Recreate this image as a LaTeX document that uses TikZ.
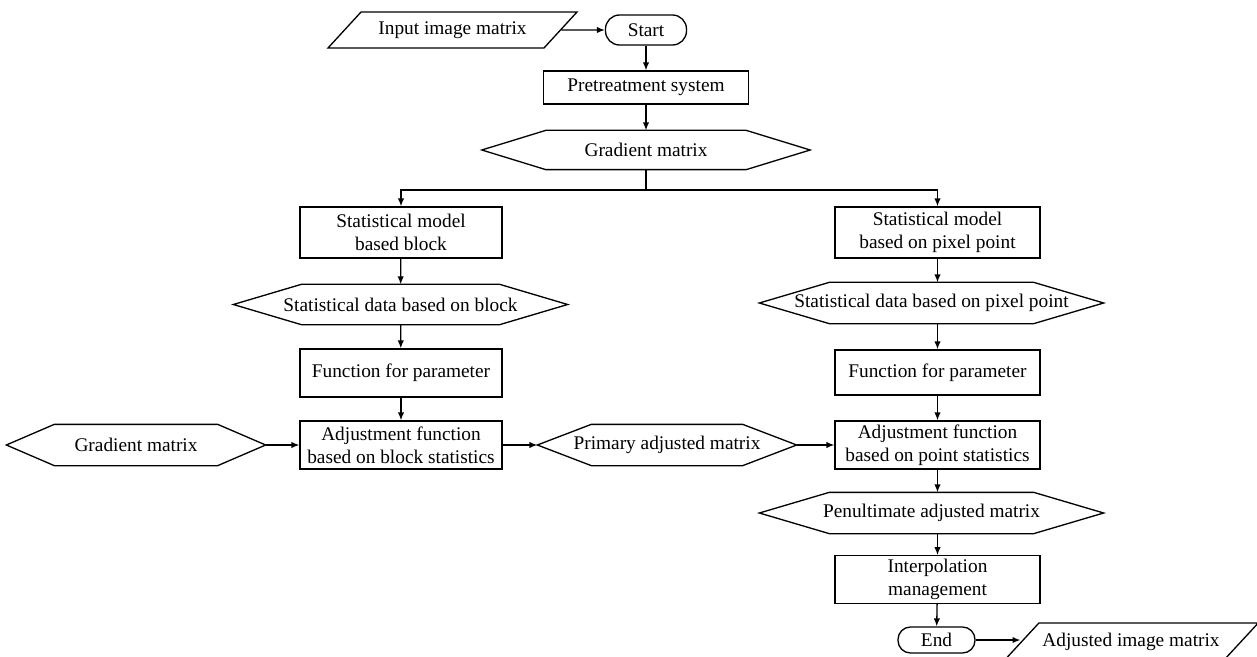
\documentclass[tikz,border=0pt]{standalone}
\usepackage{fontspec}
\setmainfont{Liberation Serif}
\usepackage{tikz}
\usetikzlibrary{shapes.geometric, arrows.meta, positioning, calc}

\tikzset{
  base/.style={line width=0.75pt, align=center, inner sep=2pt,
    font=\fontsize{11}{13}\selectfont},
  procbox/.style={base, draw, rectangle, minimum width=4.04cm},
  termbox/.style={base, draw, rectangle, rounded corners=2.8mm},
  iobox/.style={base, draw, trapezium, trapezium stretches body,
    trapezium left angle=36, trapezium right angle=144},
  databox/.style={base, rectangle, inner sep=0pt},
  arr/.style={line width=0.75pt, -{Latex[length=4.5pt,width=3.6pt]}},
  ln/.style={line width=0.75pt}
}

\begin{document}
\begin{tikzpicture}
\useasboundingbox (0,0) rectangle (25.14,-13.14);

% top part
\node[iobox, minimum width=4.98cm, minimum height=0.72cm] (input) at (9.05,-0.6) {Input image matrix};
\node[termbox, minimum width=1.62cm, minimum height=0.6cm] (start) at (12.92,-0.6) {Start};
\node[procbox, minimum width=4.1cm, minimum height=0.66cm] (pretreat) at (12.92,-1.75) {Pretreatment system};
\node[databox, minimum width=6.54cm, minimum height=0.76cm] (gradtop) at (12.92,-3.0) {Gradient matrix};
\coordinate (branch) at (12.92,-3.8);

% block branch
\node[procbox, minimum height=1.02cm] (modelblock) at (8.02,-4.65) {Statistical model\\based block};
\node[databox, minimum width=6.66cm, minimum height=0.78cm] (datablock) at (8.01,-6.09) {Statistical data based on block};
\node[procbox, minimum height=0.96cm] (paramblock) at (8.02,-7.46) {Function for parameter};
\node[procbox, minimum height=0.96cm] (adjblock) at (8.02,-8.9) {Adjustment function\\based on block statistics};
\node[databox, minimum width=5.16cm, minimum height=0.8cm] (gradleft) at (2.72,-8.9) {Gradient matrix};
\node[databox, minimum width=5.16cm, minimum height=0.8cm] (primary) at (13.34,-8.9) {Primary adjusted matrix};

% pixel point branch
\node[procbox, minimum width=4.1cm, minimum height=1.02cm] (modelpoint) at (18.75,-4.65) {Statistical model\\based on pixel point};
\node[databox, minimum width=6.86cm, minimum height=0.8cm] (datapoint) at (18.63,-6.06) {Statistical data based on pixel point};
\node[procbox, minimum width=4.1cm, minimum height=0.9cm] (parampoint) at (18.75,-7.45) {Function for parameter};
\node[procbox, minimum width=4.1cm, minimum height=0.96cm] (adjpoint) at (18.75,-8.9) {Adjustment function\\based on point statistics};
\node[databox, minimum width=6.86cm, minimum height=0.8cm] (penult) at (18.63,-10.26) {Penultimate adjusted matrix};
\node[procbox, minimum width=4.1cm, minimum height=0.9cm] (interp) at (18.75,-11.59) {Interpolation\\management};
\node[termbox, minimum width=1.54cm, minimum height=0.52cm, rounded corners=2.5mm] (stop) at (18.73,-12.8) {End};
\node[iobox, minimum width=5.08cm, minimum height=0.76cm, trapezium left angle=35, trapezium right angle=145] (output) at (22.62,-12.84) {Adjusted image matrix};

% hexagon outlines of the data nodes
\foreach \n/\d in {gradtop/1.28, datablock/1.36, gradleft/0.96, primary/1.08, datapoint/1.4, penult/1.4}
  \draw[ln] (\n.west) -- ($(\n.north west)+(\d,0)$) -- ($(\n.north east)-(\d,0)$) -- (\n.east)
    -- ($(\n.south east)-(\d,0)$) -- ($(\n.south west)+(\d,0)$) -- cycle;

% connectors
\draw[arr] (input.east) -- (start.west);
\draw[arr] (start) -- (pretreat);
\draw[arr] (pretreat) -- (gradtop);
\draw[ln] (gradtop.south) -- (branch);
\draw[arr] (branch) -| (modelblock.north);
\draw[arr] (branch) -| (modelpoint.north);

\draw[arr] (modelblock) -- (datablock);
\draw[arr] (datablock) -- (paramblock);
\draw[arr] (paramblock) -- (adjblock);
\draw[arr] (gradleft.east) -- (adjblock.west);
\draw[arr] (adjblock.east) -- (primary.west);
\draw[arr] (primary.east) -- (adjpoint.west);

\draw[arr] (modelpoint.south) -- (modelpoint.south |- datapoint.north);
\draw[arr] (parampoint.north |- datapoint.south) -- (parampoint.north);
\draw[arr] (parampoint) -- (adjpoint);
\draw[arr] (adjpoint.south) -- (adjpoint.south |- penult.north);
\draw[arr] (interp.north |- penult.south) -- (interp.north);
\draw[arr] (interp) -- (stop);
\draw[arr] (stop.east) -- (stop.east -| output.west);
\end{tikzpicture}
\end{document}
